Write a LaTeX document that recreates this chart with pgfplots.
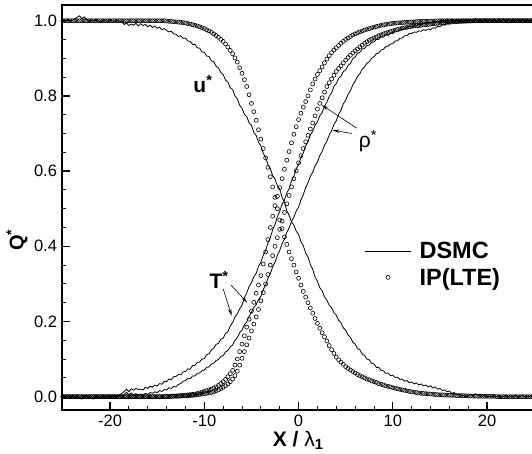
\documentclass[border=0pt]{standalone}
\usepackage{pgfplots}
\pgfplotsset{compat=1.18}
\usepackage{pgfplotstable}
\usepackage{fontspec}
\setmainfont{Liberation Sans}
\usetikzlibrary{arrows.meta}
\newcommand\lf{\fontsize{21}{24}\selectfont}

% IP(LTE) profiles: x, u*, T*, rho*
\pgfplotstableread{
x u T r
-25.00 1 0 0
-24.75 1 0 0
-24.50 1 0 0
-24.25 1 0 0
-24.00 1 0 0
-23.75 1 0 0
-23.50 1 0 0
-23.25 1 0 0
-23.00 1 0 0
-22.75 1 0 0
-22.50 1 0 0
-22.25 1 0 0
-22.00 1 0 0
-21.75 1 0 0
-21.50 1 0 0
-21.25 1 0 0
-21.00 1 0 0
-20.75 1 0 0
-20.50 1 0 0
-20.25 1 0 0
-20.00 1 0 0
-19.75 1 0 0
-19.50 1 0 0
-19.25 1 0 0
-19.00 1 0 0
-18.75 1 0 0
-18.50 1 0 0
-18.25 1 0 0
-18.00 1 0 0
-17.75 1 0 0
-17.50 1 0 0
-17.25 1 0 0
-17.00 1 0 0
-16.75 1 0 0
-16.50 1 0 0
-16.25 1 0 0
-16.00 1 0 0
-15.75 1 0 0
-15.50 1 0 0
-15.25 1 0 0
-15.00 1 0 0
-14.75 1 0 0
-14.50 1 0 0
-14.25 1 0 0
-14.00 0.999 0.001 0.000
-13.75 0.9985 0.001 0.000
-13.50 0.998 0.0015 0.0005
-13.25 0.9975 0.002 0.001
-13.00 0.997 0.002 0.001
-12.75 0.996 0.0025 0.001
-12.50 0.9955 0.003 0.0015
-12.25 0.995 0.0035 0.002
-12.00 0.994 0.004 0.002
-11.75 0.9925 0.005 0.0025
-11.50 0.991 0.0055 0.003
-11.25 0.9895 0.006 0.0035
-11.00 0.988 0.007 0.004
-10.75 0.986 0.0085 0.005
-10.50 0.984 0.010 0.006
-10.25 0.9815 0.012 0.007
-10.00 0.979 0.014 0.008
-9.75 0.976 0.016 0.009
-9.50 0.973 0.018 0.010
-9.25 0.969 0.020 0.0115
-9.00 0.965 0.023 0.013
-8.75 0.9605 0.026 0.0155
-8.50 0.956 0.030 0.018
-8.25 0.9505 0.035 0.0215
-8.00 0.945 0.040 0.025
-7.75 0.938 0.046 0.029
-7.50 0.930 0.053 0.034
-7.25 0.921 0.061 0.040
-7.00 0.912 0.070 0.047
-6.75 0.901 0.084 0.056
-6.50 0.890 0.100 0.068
-6.25 0.875 0.120 0.084
-6.00 0.860 0.140 0.102
-5.75 0.843 0.162 0.120
-5.50 0.825 0.185 0.138
-5.25 0.803 0.206 0.156
-5.00 0.780 0.228 0.175
-4.75 0.758 0.251 0.193
-4.50 0.735 0.275 0.212
-4.25 0.710 0.297 0.232
-4.00 0.685 0.322 0.255
-3.75 0.660 0.353 0.277
-3.50 0.635 0.385 0.300
-3.25 0.610 0.418 0.325
-3.00 0.585 0.450 0.350
-2.75 0.558 0.480 0.375
-2.50 0.530 0.508 0.400
-2.25 0.500 0.533 0.423
-2.00 0.470 0.556 0.445
-1.75 0.447 0.580 0.467
-1.50 0.425 0.605 0.490
-1.25 0.405 0.629 0.513
-1.00 0.385 0.652 0.535
-0.75 0.367 0.675 0.558
-0.50 0.350 0.698 0.580
-0.25 0.332 0.718 0.601
0.00 0.315 0.737 0.622
0.25 0.297 0.754 0.641
0.50 0.280 0.770 0.660
0.75 0.265 0.785 0.678
1.00 0.250 0.800 0.695
1.25 0.236 0.816 0.712
1.50 0.222 0.832 0.728
1.75 0.208 0.845 0.747
2.00 0.195 0.857 0.765
2.25 0.182 0.867 0.780
2.50 0.170 0.877 0.795
2.75 0.159 0.888 0.810
3.00 0.148 0.898 0.825
3.25 0.136 0.907 0.835
3.50 0.125 0.915 0.845
3.75 0.115 0.922 0.855
4.00 0.105 0.928 0.865
4.25 0.098 0.934 0.873
4.50 0.092 0.940 0.880
4.75 0.086 0.945 0.888
5.00 0.080 0.950 0.895
5.25 0.075 0.954 0.902
5.50 0.071 0.958 0.908
5.75 0.067 0.962 0.914
6.00 0.063 0.965 0.920
6.25 0.059 0.968 0.925
6.50 0.056 0.970 0.930
6.75 0.053 0.973 0.935
7.00 0.050 0.975 0.940
7.25 0.047 0.977 0.944
7.50 0.045 0.979 0.948
7.75 0.042 0.981 0.951
8.00 0.040 0.983 0.954
8.25 0.038 0.9845 0.957
8.50 0.035 0.986 0.960
8.75 0.033 0.9875 0.9625
9.00 0.031 0.989 0.965
9.25 0.029 0.990 0.967
9.50 0.0275 0.991 0.969
9.75 0.026 0.992 0.971
10.00 0.024 0.993 0.973
10.25 0.0225 0.9935 0.975
10.50 0.021 0.994 0.9765
10.75 0.0195 0.9945 0.978
11.00 0.018 0.995 0.980
11.25 0.017 0.9955 0.981
11.50 0.0155 0.996 0.9825
11.75 0.014 0.9965 0.984
12.00 0.013 0.997 0.985
12.25 0.012 0.997 0.986
12.50 0.011 0.9975 0.9865
12.75 0.010 0.998 0.987
13.00 0.009 0.998 0.988
13.25 0.0085 0.9985 0.989
13.50 0.008 0.9985 0.9895
13.75 0.0075 0.999 0.990
14.00 0.007 0.999 0.991
14.25 0.0065 0.999 0.992
14.50 0.006 0.9995 0.9925
14.75 0.0055 0.9995 0.993
15.00 0.005 1 0.994
15.25 0.005 1 0.9945
15.50 0.0045 1 0.995
15.75 0.004 1 0.9955
16.00 0.004 1 0.996
16.25 0.0035 1 0.9965
16.50 0.0035 1 0.997
16.75 0.003 1 0.9975
17.00 0.003 1 0.998
17.25 0.003 1 0.998
17.50 0.0025 1 0.9985
17.75 0.0025 1 0.9985
18.00 0.002 1 0.999
18.25 0.002 1 0.999
18.50 0.0015 1 0.9995
18.75 0.0015 1 0.9995
19.00 0.001 1 1
19.25 0.001 1 1
19.50 0.001 1 1
19.75 0.001 1 1
20.00 0.001 1 1
20.25 0.001 1 1
20.50 0.001 1 1
20.75 0.001 1 1
21.00 0 1 1
21.25 0 1 1
21.50 0 1 1
21.75 0 1 1
22.00 0 1 1
22.25 0 1 1
22.50 0 1 1
22.75 0 1 1
23.00 0 1 1
23.25 0 1 1
23.50 0 1 1
23.75 0 1 1
24.00 0 1 1
24.25 0 1 1
24.50 0 1 1
24.75 0 1 1
25.00 0 1 1
}\iptable

% DSMC profiles: x, u*, T*, rho*
\pgfplotstableread{
x u T r
-25.00 1.002 0.001 -0.002
-24.75 0.998 -0.003 0.002
-24.50 1.004 0.002 0.000
-24.25 0.999 -0.001 -0.004
-24.00 1.001 0.003 0.001
-23.75 1.005 -0.002 -0.003
-23.50 1.009 0.000 0.002
-23.25 1.013 -0.004 -0.001
-23.00 1.006 -0.006 -0.005
-22.75 1.010 -0.003 -0.002
-22.50 1.003 0.001 0.003
-22.25 0.998 -0.002 0.000
-22.00 1.002 -0.005 -0.004
-21.75 0.999 -0.001 -0.006
-21.50 1.004 0.002 -0.002
-21.25 1.000 -0.003 0.001
-21.00 0.997 0.000 -0.003
-20.75 1.002 0.003 0.002
-20.50 1.001 -0.002 -0.001
-20.25 0.998 0.001 0.003
-20.00 1.003 -0.001 0.000
-19.75 1.000 0.002 -0.002
-19.50 0.997 0.004 0.002
-19.25 1.002 0.001 -0.001
-19.00 0.999 0.005 0.003
-18.75 0.996 0.009 0.001
-18.50 0.990 0.014 0.006
-18.25 0.994 0.020 0.012
-18.00 0.987 0.013 0.005
-17.75 0.991 0.021 0.010
-17.50 0.988 0.017 0.004
-17.25 0.993 0.022 0.008
-17.00 0.986 0.019 0.003
-16.75 0.992 0.020 0.007
-16.50 0.987 0.018 0.005
-16.25 0.990 0.025 0.009
-16.00 0.984 0.022 0.006
-15.75 0.988 0.028 0.011
-15.50 0.982 0.025 0.009
-15.25 0.986 0.031 0.013
-15.00 0.980 0.028 0.011
-14.75 0.983 0.035 0.016
-14.50 0.976 0.033 0.014
-14.25 0.979 0.041 0.019
-14.00 0.974 0.040 0.018
-13.75 0.970 0.047 0.024
-13.50 0.972 0.045 0.022
-13.25 0.965 0.053 0.027
-13.00 0.964 0.054 0.026
-12.75 0.958 0.059 0.033
-12.50 0.960 0.058 0.035
-12.25 0.953 0.066 0.041
-12.00 0.954 0.067 0.043
-11.75 0.946 0.074 0.049
-11.50 0.945 0.073 0.048
-11.25 0.937 0.083 0.055
-11.00 0.937 0.083 0.055
-10.75 0.928 0.091 0.062
-10.50 0.927 0.092 0.063
-10.25 0.917 0.100 0.069
-10.00 0.916 0.101 0.071
-9.75 0.906 0.112 0.078
-9.50 0.905 0.114 0.079
-9.25 0.893 0.125 0.087
-9.00 0.891 0.129 0.089
-8.75 0.879 0.139 0.096
-8.50 0.875 0.142 0.099
-8.25 0.862 0.153 0.107
-8.00 0.857 0.156 0.109
-7.75 0.842 0.168 0.119
-7.50 0.837 0.173 0.123
-7.25 0.822 0.188 0.133
-7.00 0.817 0.197 0.137
-6.75 0.800 0.212 0.150
-6.50 0.792 0.220 0.157
-6.25 0.775 0.234 0.170
-6.00 0.767 0.243 0.177
-5.75 0.751 0.263 0.191
-5.50 0.745 0.276 0.199
-5.25 0.728 0.293 0.214
-5.00 0.722 0.303 0.224
-4.75 0.703 0.319 0.237
-4.50 0.695 0.328 0.245
-4.25 0.676 0.347 0.258
-4.00 0.667 0.358 0.267
-3.75 0.647 0.376 0.285
-3.50 0.637 0.388 0.297
-3.25 0.617 0.409 0.315
-3.00 0.607 0.423 0.327
-2.75 0.588 0.444 0.345
-2.50 0.579 0.458 0.358
-2.25 0.561 0.479 0.376
-2.00 0.552 0.493 0.389
-1.75 0.530 0.512 0.407
-1.50 0.517 0.523 0.419
-1.25 0.495 0.542 0.437
-1.00 0.482 0.553 0.449
-0.75 0.465 0.574 0.466
-0.50 0.457 0.586 0.477
-0.25 0.440 0.606 0.494
0.00 0.432 0.618 0.504
0.25 0.412 0.637 0.523
0.50 0.402 0.648 0.537
0.75 0.382 0.667 0.556
1.00 0.372 0.678 0.569
1.25 0.351 0.696 0.586
1.50 0.339 0.706 0.597
1.75 0.318 0.722 0.614
2.00 0.307 0.731 0.624
2.25 0.290 0.747 0.641
2.50 0.282 0.755 0.652
2.75 0.265 0.773 0.669
3.00 0.257 0.783 0.679
3.25 0.243 0.799 0.696
3.50 0.237 0.808 0.707
3.75 0.223 0.825 0.724
4.00 0.217 0.833 0.734
4.25 0.203 0.847 0.751
4.50 0.197 0.853 0.762
4.75 0.183 0.865 0.779
5.00 0.177 0.869 0.789
5.25 0.164 0.881 0.804
5.50 0.158 0.886 0.814
5.75 0.145 0.899 0.829
6.00 0.140 0.903 0.839
6.25 0.128 0.913 0.852
6.50 0.125 0.916 0.859
6.75 0.113 0.925 0.871
7.00 0.110 0.926 0.877
7.25 0.100 0.934 0.887
7.50 0.098 0.935 0.891
7.75 0.089 0.943 0.900
8.00 0.087 0.943 0.904
8.25 0.078 0.950 0.912
8.50 0.078 0.950 0.914
8.75 0.070 0.957 0.922
9.00 0.069 0.956 0.924
9.25 0.062 0.962 0.931
9.50 0.063 0.961 0.932
9.75 0.056 0.967 0.938
10.00 0.057 0.966 0.939
10.25 0.051 0.972 0.946
10.50 0.052 0.971 0.947
10.75 0.046 0.977 0.953
11.00 0.047 0.976 0.954
11.25 0.041 0.981 0.960
11.50 0.043 0.980 0.960
11.75 0.037 0.985 0.966
12.00 0.039 0.983 0.966
12.25 0.034 0.988 0.970
12.50 0.037 0.986 0.969
12.75 0.031 0.991 0.973
13.00 0.034 0.988 0.972
13.25 0.029 0.993 0.976
13.50 0.031 0.991 0.974
13.75 0.026 0.996 0.978
14.00 0.029 0.993 0.976
14.25 0.023 0.998 0.981
14.50 0.026 0.995 0.980
14.75 0.020 0.999 0.985
15.00 0.022 0.997 0.984
15.25 0.016 1.002 0.989
15.50 0.018 0.998 0.988
15.75 0.013 1.003 0.993
16.00 0.015 0.999 0.991
16.25 0.009 1.004 0.997
16.50 0.011 0.998 0.994
16.75 0.005 1.003 1.000
17.00 0.007 0.997 0.996
17.25 0.002 1.002 1.002
17.50 0.004 0.998 0.998
17.75 -0.001 1.004 1.003
18.00 0.003 0.996 0.999
18.25 0.006 1.003 1.004
18.50 0.002 0.999 0.997
18.75 0.008 1.005 1.006
19.00 0.004 0.997 0.999
19.25 0.007 1.002 1.003
19.50 0.001 0.998 0.998
19.75 0.003 1.003 1.004
20.00 -0.002 0.999 0.997
20.25 0.002 1.002 1.001
20.50 -0.001 0.997 0.996
20.75 0.003 1.004 1.003
21.00 0.000 0.999 0.998
21.25 0.004 1.003 1.005
21.50 -0.002 0.998 0.999
21.75 0.001 1.004 1.003
22.00 0.003 0.997 0.997
22.25 -0.001 1.002 1.004
22.50 0.002 0.999 0.998
22.75 0.000 1.005 1.002
23.00 0.004 0.998 0.997
23.25 -0.002 1.003 1.004
23.50 0.001 0.996 0.999
23.75 0.003 1.002 1.003
24.00 -0.001 0.999 0.997
24.25 0.002 1.004 1.002
24.50 0.000 0.998 0.999
24.75 0.003 1.003 1.004
25.00 -0.001 1.000 0.998
}\dsmctable

\begin{document}
\begin{tikzpicture}
\useasboundingbox (0,0) rectangle (532pt,454pt);
\begin{axis}[
  at={(62pt,44pt)}, anchor=south west,
  scale only axis, width=472.2pt, height=405pt,
  xmin=-25.1, xmax=25, ymin=-0.0354, ymax=1.0418,
  axis line style={line width=1.6pt},
  xtick={-20,-10,0,10,20}, minor x tick num=4,
  ytick={0,0.2,0.4,0.6,0.8,1.0}, minor y tick num=3,
  xtick pos=left, ytick pos=left,
  tick align=inside,
  major tick length=8pt, minor tick length=4pt,
  major tick style={line width=1.3pt, black},
  minor tick style={line width=0.9pt, black},
  /pgf/number format/assume math mode=true,
  tick label style={font=\fontsize{16.5}{18}\selectfont},
  yticklabel style={/pgf/number format/.cd, fixed, fixed zerofill, precision=1, /tikz/.cd, xshift=-1.5pt},
  xticklabel style={yshift=-1.5pt},
  xlabel={\lf\bfseries X / \mdseries λ\textsubscript{\bfseries 1}},
  xlabel style={at={(axis description cs:0.5,0)}, anchor=center, yshift=-30pt},
  ylabel={\fontsize{20}{22}\selectfont\bfseries Q\textsuperscript{*}},
  ylabel style={at={(axis description cs:-0.0953,0.42)}, anchor=center},
  legend style={at={(axis cs:7.0,0.414)}, anchor=north west, draw=none, fill=none,
    font=\fontsize{23.5}{26}\selectfont\bfseries, inner sep=0pt, row sep=6pt, column sep=7pt, nodes={inner sep=1pt}},
  legend cell align=left,
  legend image code/.code={\draw[mark repeat=2,mark phase=2,#1] plot coordinates {(0pt,0pt)(23pt,0pt)(46pt,0pt)};},
  every axis plot/.append style={black},
]
\addplot[line width=0.8pt] table[x=x,y=u] {\dsmctable};
\addlegendentry{DSMC}
\addplot[only marks, mark=o, mark size=2pt, mark options={line width=0.6pt}] table[x=x,y=u] {\iptable};
\addlegendentry{IP(LTE)}
\addplot[line width=0.8pt, forget plot] table[x=x,y=T] {\dsmctable};
\addplot[line width=0.8pt, forget plot] table[x=x,y=r] {\dsmctable};
\addplot[only marks, mark=o, mark size=2pt, mark options={line width=0.6pt}, forget plot] table[x=x,y=T] {\iptable};
\addplot[only marks, mark=o, mark size=2pt, mark options={line width=0.6pt}, forget plot] table[x=x,y=r] {\iptable};

\node[font=\lf\bfseries] at (axis cs:-10.14,0.832) {u\textsuperscript{*}};
\node[font=\lf\bfseries] at (axis cs:-8.44,0.31) {T\textsuperscript{*}};
\node[font=\lf] at (axis cs:7.37,0.68) {ρ\textsuperscript{*}};
\draw[line width=0.6pt, -{Stealth[length=7pt,width=3.5pt,open]}] (axis cs:-7.99,0.286) -- (axis cs:-7.09,0.215);
\draw[line width=0.6pt, -{Stealth[length=7pt,width=3.5pt,open]}] (axis cs:-7.17,0.297) -- (axis cs:-5.44,0.25);
\draw[line width=0.6pt, -{Stealth[length=7pt,width=3.5pt,open]}] (axis cs:6.17,0.714) -- (axis cs:2.45,0.776);
\draw[line width=0.6pt, -{Stealth[length=7pt,width=3.5pt,open]}] (axis cs:5.64,0.70) -- (axis cs:3.6,0.709);
\end{axis}
\end{tikzpicture}
\end{document}
